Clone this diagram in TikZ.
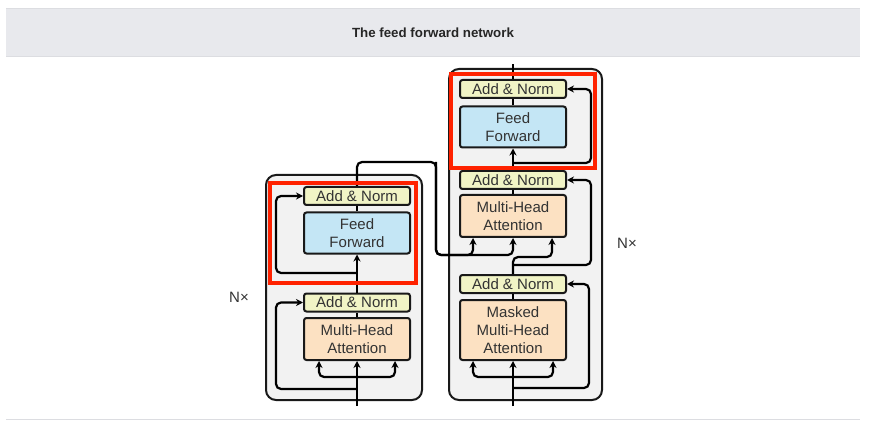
\documentclass[tikz,border=0pt]{standalone}
\usepackage{fontspec}
\setmainfont{Liberation Sans}
\usetikzlibrary{arrows.meta}
\definecolor{normcol}{HTML}{F1F4C6}
\definecolor{ffcol}{HTML}{C4E6F5}
\definecolor{attcol}{HTML}{FCE1C2}
\definecolor{layercol}{HTML}{F2F2F2}
\definecolor{hlred}{HTML}{FF2200}
\definecolor{headcol}{HTML}{E8E9ED}
\definecolor{rulecol}{HTML}{DCDDE1}
\begin{document}
\begin{tikzpicture}[x=1pt,y=-1pt,
  blk/.style={draw=black!90,line width=2pt,rounded corners=2.5pt,minimum width=106pt,inner sep=0pt,
    align=center,font=\fontsize{15}{18}\selectfont,text=black!80},
  addnorm/.style={blk,fill=normcol,minimum height=18pt},
  ffbox/.style={blk,fill=ffcol,minimum height=41pt},
  attbox/.style={blk,fill=attcol,minimum height=42pt},
  layer/.style={draw=black!90,line width=2pt,fill=layercol,rounded corners=10pt},
  hlbox/.style={draw=hlred,line width=3.5pt},
  conn/.style={line width=2.2pt,rounded corners=5pt},
  arr/.style={conn,-{Stealth[length=7pt,width=7pt]}}]
% 背景与标题
\useasboundingbox (0,0) rectangle (870,422);
\fill[white] (0,0) rectangle (870,422);
\fill[headcol] (6,9) rectangle (860,57);
\draw[rulecol,line width=1pt] (6,9) -- (860,9) (6,57) -- (860,57) (6,419) -- (860,419);
\node[font=\bfseries\fontsize{13.3}{15}\selectfont,text=black!85] (title) at (433,33) {The feed forward network};
% 外框
\draw[layer] (266,175) rectangle (422,400);
\draw[layer] (449,69) rectangle (602,400);
\node[font=\fontsize{15}{16}\selectfont,text=black!80] (encnx) at (239,297) {N×};
\node[font=\fontsize{15}{16}\selectfont,text=black!80] (decnx) at (627,243) {N×};
% 编码器
\node[attbox] (encatt) at (357,339) {Multi-Head\\Attention};
\node[addnorm] (encnorm1) at (357,302.5) {Add \& Norm};
\node[ffbox] (encff) at (357,233) {Feed\\Forward};
\node[addnorm] (encnorm2) at (357,196) {Add \& Norm};
% 解码器
\node[attbox,minimum height=60pt] (decmask) at (513,330) {Masked\\Multi-Head\\Attention};
\node[addnorm] (decnorm1) at (513,284) {Add \& Norm};
\node[attbox] (decatt) at (513,216) {Multi-Head\\Attention};
\node[addnorm] (decnorm2) at (513,180) {Add \& Norm};
\node[ffbox] (decff) at (513,127) {Feed\\Forward};
\node[addnorm] (decnorm3) at (513,89) {Add \& Norm};
% 编码器连线
\coordinate (encin) at (357,406);
\coordinate (encsplit) at (357,377);
\coordinate (encres1) at (357,389);
\coordinate (encres2) at (357,273);
\draw[arr] (encin) -- (encatt.south);
\draw[arr] (encsplit) -| ([xshift=-38pt]encatt.south);
\draw[arr] (encsplit) -| ([xshift=38pt]encatt.south);
\draw[arr] (encres1) -| ([xshift=-27pt]encnorm1.west) -- (encnorm1.west);
\draw[conn] (encatt.north) -- (encnorm1.south);
\draw[arr] (encnorm1.north) -- (encff.south);
\draw[arr] (encres2) -| ([xshift=-27pt]encnorm2.west) -- (encnorm2.west);
\draw[conn] (encff.north) -- (encnorm2.south);
% 编码器输出接到解码器
\coordinate (memturn) at (436,162);
\coordinate (memin) at (436,255);
\draw[arr] (encnorm2.north) |- (memturn) -- (memin) -| ([xshift=-40pt]decatt.south);
\draw[arr] (memturn) -- (memin) -| (decatt.south);
% 解码器连线
\coordinate (decin) at (513,406);
\coordinate (decsplit) at (513,377);
\coordinate (decres1) at (513,388);
\coordinate (decq) at (513,257);
\coordinate (decres2) at (513,265);
\coordinate (decres3) at (513,163);
\coordinate (decout) at (513,64);
\draw[arr] (decin) -- (decmask.south);
\draw[arr] (decsplit) -| ([xshift=-40pt]decmask.south);
\draw[arr] (decsplit) -| ([xshift=40pt]decmask.south);
\draw[arr] (decres1) -| ([xshift=22pt]decnorm1.east) -- (decnorm1.east);
\draw[conn] (decmask.north) -- (decnorm1.south);
\draw[arr] (decnorm1.north) -- (decq) -| ([xshift=39pt]decatt.south);
\draw[arr] (decres2) -| ([xshift=24pt]decnorm2.east) -- (decnorm2.east);
\draw[conn] (decatt.north) -- (decnorm2.south);
\draw[arr] (decnorm2.north) -- (decff.south);
\draw[arr] (decres3) -| ([xshift=24pt]decnorm3.east) -- (decnorm3.east);
\draw[conn] (decff.north) -- (decnorm3.south);
\draw[conn] (decnorm3.north) -- (decout);
% 红框
\draw[hlbox] (270,183) rectangle (416,283);
\draw[hlbox] (451,74) rectangle (595,168);
\end{tikzpicture}
\end{document}
